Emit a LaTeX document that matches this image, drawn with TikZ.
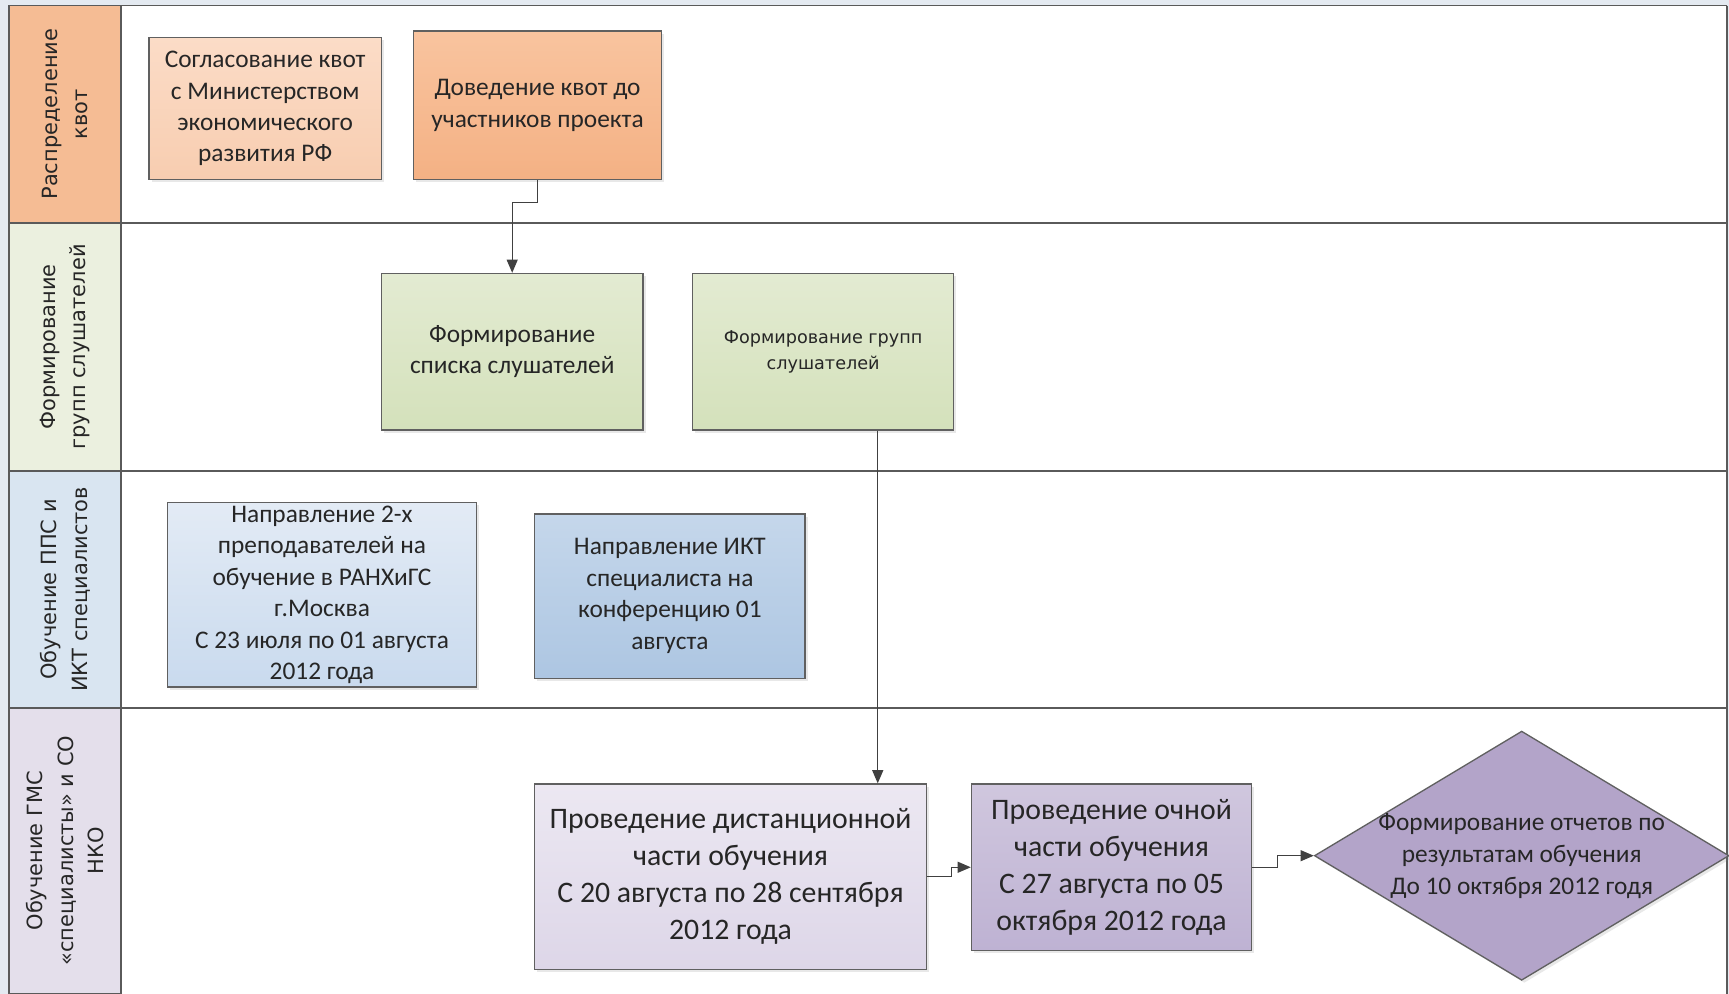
\documentclass[tikz,border=0pt]{standalone}
\usepackage{fontspec}
\setmainfont{Carlito}
\newfontfamily\lanefont{DejaVu Sans}
\usetikzlibrary{arrows.meta,shapes.geometric,shadows}

\definecolor{bggray}{HTML}{E4EAF1}
\definecolor{lanegray}{HTML}{5A5A5A}
\definecolor{boxgray}{HTML}{606060}
\definecolor{linegray}{HTML}{404040}
\definecolor{textdark}{HTML}{262626}
\definecolor{lanequota}{HTML}{F5BC94}
\definecolor{lanegroups}{HTML}{EBF0DF}
\definecolor{laneteach}{HTML}{D9E5F1}
\definecolor{lanestudy}{HTML}{E4DFEB}
\definecolor{agreetop}{HTML}{FBDCC7}
\definecolor{agreebot}{HTML}{F8CDB0}
\definecolor{quotatop}{HTML}{F9C49F}
\definecolor{quotabot}{HTML}{F4B184}
\definecolor{greentop}{HTML}{E3EBD2}
\definecolor{greenbot}{HTML}{D4E1BB}
\definecolor{teachtop}{HTML}{E3EBF5}
\definecolor{teachbot}{HTML}{C9DAEE}
\definecolor{icttop}{HTML}{C5D7EB}
\definecolor{ictbot}{HTML}{ADC6E2}
\definecolor{remotetop}{HTML}{ECE8F2}
\definecolor{remotebot}{HTML}{DDD6E8}
\definecolor{fulltop}{HTML}{D0C7DE}
\definecolor{fullbot}{HTML}{BEB2D3}
\definecolor{reportfill}{HTML}{B3A4C9}

\begin{document}
\begin{tikzpicture}[x=0.5pt, y=-0.5pt,
    lanelabel/.style={draw=lanegray, line width=0.8pt, rotate=90, minimum height=51pt,
      inner sep=0pt, align=center, text=textdark, font=\lanefont\fontsize{9.5}{14}\selectfont},
    laneline/.style={draw=lanegray, line width=0.8pt},
    taskbox/.style={draw=boxgray, line width=0.6pt, inner sep=0pt, align=center, text=textdark,
      font=\fontsize{11.5}{14.25}\selectfont,
      drop shadow={opacity=0.18, shadow xshift=1.2pt, shadow yshift=-1.2pt}},
    bigbox/.style={taskbox, font=\fontsize{13.5}{16.75}\selectfont},
    flow/.style={draw=linegray, line width=0.6pt, -{Triangle[length=6pt,width=5pt]}}]
  \useasboundingbox (0,0) rectangle (1568,901);
  \fill[bggray] (0,0) rectangle (1568,901);
  \fill[white] (8,5) rectangle (1566,901);

  % lanes
  \node[lanelabel, fill=lanequota, minimum width=98.5pt] (laneQuota) at (59,103.5) {Распределение\\квот};
  \node[lanelabel, fill=lanegroups, minimum width=112.5pt] (laneGroups) at (59,314.5) {Формирование\\групп слушателей};
  \node[lanelabel, fill=laneteach, minimum width=107.5pt] (laneTeach) at (59,534.5) {Обучение ППС и\\ИКТ специалистов};
  \node[lanelabel, fill=lanestudy, minimum width=129.5pt] (laneStudy) at (59,771.5) {Обучение ГМС\\«специалисты» и СО\\НКО};
  \foreach \ly in {5,202,427,642}
    \draw[laneline] (8,\ly) -- (1566,\ly);
  \draw[laneline] (1566,5) -- (1566,901);

  % tasks
  \node[taskbox, top color=agreetop, bottom color=agreebot,
    minimum width=105.5pt, minimum height=64.5pt] (agree) at (240.5,98.5)
    {Согласование квот\\с Министерством\\экономического\\развития РФ};
  \node[taskbox, top color=quotatop, bottom color=quotabot,
    minimum width=112.5pt, minimum height=67.5pt] (quota) at (487.5,95.5)
    {Доведение квот до\\участников проекта};
  \node[taskbox, top color=greentop, bottom color=greenbot,
    minimum width=118.5pt, minimum height=71pt] (list) at (464.5,319)
    {Формирование\\списка слушателей};
  \node[taskbox, top color=greentop, bottom color=greenbot,
    font=\lanefont\fontsize{8}{12}\selectfont,
    minimum width=118.5pt, minimum height=71pt] (groups) at (746.5,319)
    {Формирование групп\\слушателей};
  \node[taskbox, top color=teachtop, bottom color=teachbot,
    minimum width=140pt, minimum height=83.5pt] (teachers) at (292,539.5)
    {Направление 2-х\\преподавателей на\\обучение в РАНХиГС\\г.Москва\\С 23 июля по 01 августа\\2012 года};
  \node[taskbox, top color=icttop, bottom color=ictbot,
    minimum width=122.5pt, minimum height=74.5pt] (ict) at (607.5,540.5)
    {Направление ИКТ\\специалиста на\\конференцию 01\\августа};
  \node[bigbox, top color=remotetop, bottom color=remotebot,
    minimum width=177.5pt, minimum height=84pt] (remote) at (662.5,795)
    {Проведение дистанционной\\части обучения\\С 20 августа по 28 сентября\\2012 года};
  \node[bigbox, top color=fulltop, bottom color=fullbot,
    minimum width=127pt, minimum height=75.5pt] (fulltime) at (1008,786.5)
    {Проведение очной\\части обучения\\С 27 августа по 05\\октября 2012 года};
  \node[diamond, draw=boxgray, line width=0.6pt, fill=reportfill,
    inner sep=0pt, minimum width=188pt, minimum height=113pt,
    drop shadow={opacity=0.18, shadow xshift=1.2pt, shadow yshift=-1.2pt}] (report) at (1380,776) {};
  \node[align=center, text=textdark, font=\fontsize{11.5}{14.5}\selectfont] (reporttext) at (report.center)
    {Формирование отчетов по\\результатам обучения\\До 10 октября 2012 годя};

  % connectors
  \draw[flow] (quota.south) -- ++(0,20) -| (list.north);
  \draw[flow] ([xshift=24.75pt]groups.south) -- ([xshift=24.75pt]groups.south |- remote.north);
  \draw[flow] (remote.east) -- ++(22,0) |- (fulltime.west);
  \draw[flow] (fulltime.east) -- ++(23,0) |- (report.west);
\end{tikzpicture}
\end{document}
